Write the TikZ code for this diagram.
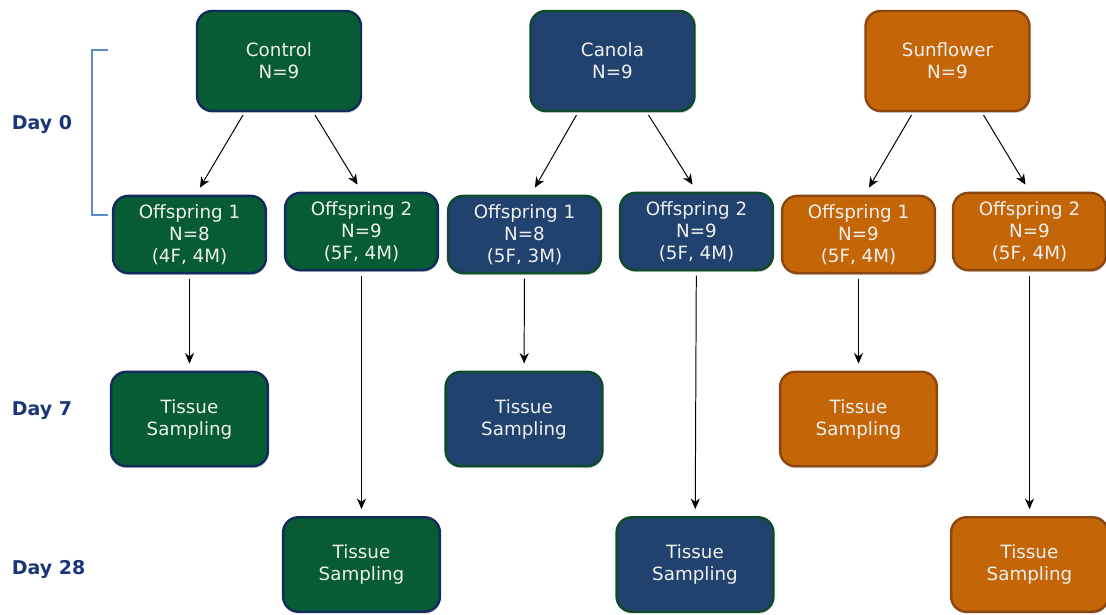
\documentclass[tikz,border=0pt]{standalone}
\usepackage{fontspec}
\setmainfont{DejaVu Sans}
\usepackage{tikz}
\usepackage{xcolor}
\usetikzlibrary{arrows.meta, calc, positioning, shadows}

\definecolor{ctrlgreen}{HTML}{075C33}
\definecolor{ctrlline}{HTML}{112B5E}
\definecolor{canblue}{HTML}{21426E}
\definecolor{canline}{HTML}{0D4B2B}
\definecolor{sunorange}{HTML}{C46508}
\definecolor{sunline}{HTML}{8A4710}
\definecolor{daytext}{HTML}{1A3578}
\definecolor{bracket}{HTML}{5B8AC8}

\begin{document}
\begin{tikzpicture}[x=0.025cm, y=-0.025cm,
                        box/.style={draw, line width=1.7pt, rounded corners=0.38cm, align=center,
                            text=white!94!black, font=\fontsize{13}{15.6}\selectfont,
                            drop shadow={shadow xshift=0.6pt, shadow yshift=-1.4pt, opacity=0.35}},
                        group/.style={box, minimum width=4.1cm, minimum height=2.5cm},
                        offs/.style={box, minimum width=3.82cm, minimum height=1.93cm},
                        tissue/.style={box, minimum width=3.92cm, minimum height=2.36cm},
                        ctrl/.style={fill=ctrlgreen, draw=ctrlline},
                        can/.style={fill=canblue, draw=canline},
                        sun/.style={fill=sunorange, draw=sunline},
                        day/.style={font=\fontsize{13.5}{15}\selectfont\bfseries, text=daytext, anchor=west},
                        arr/.style={-{Stealth[length=7.5pt, width=6.5pt]}, line width=0.7pt}]
                        \useasboundingbox (0, 0) rectangle (1106, 615);
                        % day labels
                        \node[day] (d0) at (7, 125) {Day 0};
                        \node[day] (d7) at (7, 411) {Day 7};
                        \node[day] (d28) at (7, 570) {Day 28};
                        \draw[bracket, line width=0.8pt] (108, 50) -- (92, 50) -- (92, 215) -- (108, 215);
                        % diet groups
                        \node[group, ctrl] (c) at (279, 61) {Control\\N=9};
                        \node[group, can] (k) at (612.5, 61) {Canola\\N=9};
                        \node[group, sun] (s) at (947.5, 61) {Sunflower\\N=9};
                        % offspring
                        \node[offs, ctrl] (c1) at (189.5, 234.5) {Offspring 1\\N=8\\(4F, 4M)};
                        \node[offs, ctrl] (c2) at (361.5, 231.5) {Offspring 2\\N=9\\(5F, 4M)};
                        \node[offs, can] (k1) at (524.5, 234.5) {Offspring 1\\N=8\\(5F, 3M)};
                        \node[offs, can] (k2) at (696.5, 231.5) {Offspring 2\\N=9\\(5F, 4M)};
                        \node[offs, sun] (s1) at (858.5, 234.5) {Offspring 1\\N=9\\(5F, 4M)};
                        \node[offs, sun] (s2) at (1029.5, 231.5) {Offspring 2\\N=9\\(5F, 4M)};
                        % sampling
                        \node[tissue, ctrl] (c7) at (189.5, 419) {Tissue\\Sampling};
                        \node[tissue, can] (k7) at (524, 419) {Tissue\\Sampling};
                        \node[tissue, sun] (s7) at (858.5, 419) {Tissue\\Sampling};
                        \node[tissue, ctrl] (c28) at (361.5, 564.5) {Tissue\\Sampling};
                        \node[tissue, can] (k28) at (695, 564.5) {Tissue\\Sampling};
                        \node[tissue, sun] (s28) at (1029.5, 564.5) {Tissue\\Sampling};
                        \foreach \g in {c, k, s} {
                            \draw[arr] ([xshift=-0.9cm, yshift=-2pt]\g.south) -- ([xshift=0.26cm, yshift=5pt]\g1.north);
                            \draw[arr] ([xshift=0.9cm, yshift=-2pt]\g.south) -- ([xshift=-0.1cm, yshift=5pt]\g2.north);
                            \draw[arr, shorten <=3pt, shorten >=5pt] (\g1) -- (\g7);
                            \draw[arr, shorten <=3pt, shorten >=5pt] (\g2) -- (\g28);
                        }
                    \end{tikzpicture}
\end{document}
